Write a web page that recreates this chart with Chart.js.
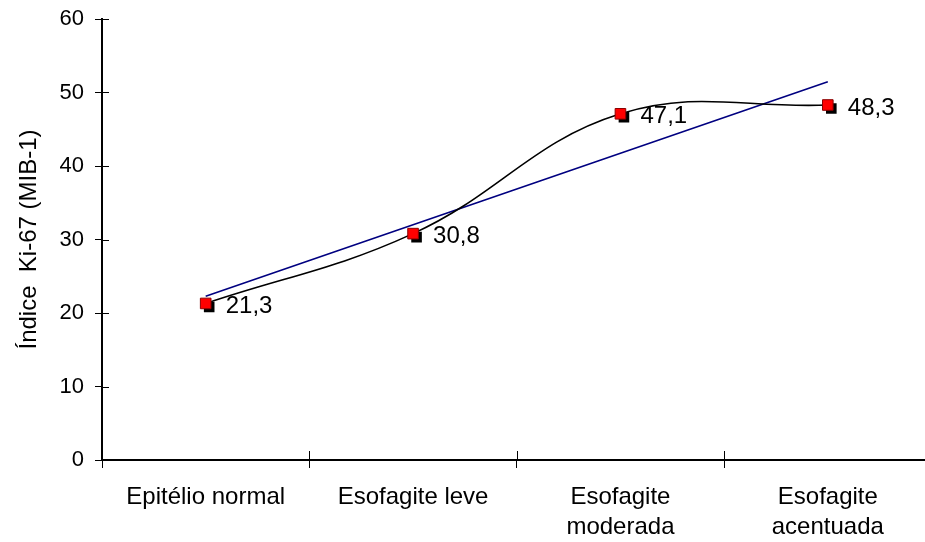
<!DOCTYPE html>
<html>
<head>
<meta charset="utf-8">
<script src="https://cdn.jsdelivr.net/npm/chart.js@4.4.1/dist/chart.umd.min.js"></script>
<style>
  body { margin: 0; overflow: hidden; background: #fff; }
  #wrap { width: 940px; height: 542px; }
</style>
</head>
<body>
<div id="wrap"><canvas id="kiChart"></canvas></div>
<script>
// Data
const categories = ['Epitélio normal', 'Esofagite leve', ['Esofagite', 'moderada'], ['Esofagite', 'acentuada']];
const kiValues = [21.3, 30.8, 47.1, 48.3];
const valueLabels = ['21,3', '30,8', '47,1', '48,3'];
const yTicks = [0, 10, 20, 30, 40, 50, 60];

// Linear trend line (least squares over the category index)
const n = kiValues.length;
const meanX = (n - 1) / 2;
const meanY = kiValues.reduce((a, b) => a + b, 0) / n;
let sxy = 0, sxx = 0;
kiValues.forEach((v, i) => { sxy += (i - meanX) * (v - meanY); sxx += (i - meanX) * (i - meanX); });
const slope = sxy / sxx;
const trendValues = kiValues.map((v, i) => meanY + slope * (i - meanX));

const fontFamily = '"Liberation Sans", Arial, sans-serif';
const fontSize = 24;

// shift the shadow squares a few pixels down-right
const shadowPlugin = {
    id: 'shadowShift',
    beforeDatasetDraw(chart, args) {
        if (args.index === 0) {
            chart.ctx.save();
            chart.ctx.translate(3.5, 3.5);
        }
    },
    afterDatasetDraw(chart, args) {
        if (args.index === 0) chart.ctx.restore();
    }
};

// tick marks crossing the axes + value labels
const extrasPlugin = {
    id: 'extras',
    afterDraw(chart) {
        const ctx = chart.ctx;
        const area = chart.chartArea;
        const x = chart.scales.x, y = chart.scales.y;
        ctx.save();
        ctx.strokeStyle = '#000';
        ctx.lineWidth = 1;
        ctx.beginPath();
        yTicks.forEach(t => {
            const py = Math.round(y.getPixelForValue(t)) + 0.5;
            ctx.moveTo(area.left, py);
            ctx.lineTo(area.left + 7, py);
        });
        for (let i = 0; i <= categories.length; i++) {
            const px = Math.round(x.getPixelForValue(i - 0.5)) + 0.5;
            ctx.moveTo(px, area.bottom);
            ctx.lineTo(px, area.bottom - 9);
        }
        ctx.stroke();

        const meta = chart.getDatasetMeta(2);
        ctx.fillStyle = '#000';
        ctx.font = fontSize + 'px ' + fontFamily;
        ctx.textAlign = 'left';
        ctx.textBaseline = 'middle';
        meta.data.forEach((pt, i) => {
            ctx.fillText(valueLabels[i], pt.x + 20, pt.y + 3);
        });
        ctx.restore();
    }
};

const ctx = document.getElementById('kiChart').getContext('2d');
const kiChart = new Chart(ctx, {
    type: 'line',
    data: {
        labels: categories,
        datasets: [
            {
                // shadow squares
                data: kiValues,
                showLine: false,
                pointStyle: 'rect',
                pointRadius: 7.5,
                pointBackgroundColor: '#000',
                pointBorderColor: '#000',
                pointBorderWidth: 0,
                order: 3
            },
            {
                // trend line
                data: trendValues,
                borderColor: '#000080',
                borderWidth: 1.6,
                pointRadius: 0,
                tension: 0,
                order: 2
            },
            {
                data: kiValues,
                borderColor: '#000',
                borderWidth: 1.6,
                tension: 0.4,
                pointStyle: 'rect',
                pointRadius: 7.5,
                pointBackgroundColor: '#ff0000',
                pointBorderColor: '#8b0000',
                pointBorderWidth: 1,
                order: 1
            }
        ]
    },
    options: {
        responsive: true,
        maintainAspectRatio: false,
        animation: false,
        layout: { padding: { top: 19, right: 6, left: 0, bottom: 0 } },
        plugins: {
            legend: { display: false },
            tooltip: { enabled: false }
        },
        scales: {
            x: {
                offset: true,
                grid: { offset: true, drawOnChartArea: false, tickLength: 8, color: '#000' },
                border: { color: '#000', width: 2 },
                ticks: {
                    color: '#000',
                    padding: 14,
                    maxRotation: 0,
                    font: { family: fontFamily, size: fontSize, lineHeight: 1.25 }
                },
                afterFit(scale) { scale.height = 82; }
            },
            y: {
                min: 0,
                max: 60,
                grid: { drawOnChartArea: false, tickLength: 7, color: '#000' },
                border: { color: '#000', width: 2 },
                ticks: {
                    stepSize: 10,
                    color: '#000',
                    padding: 11,
                    font: { family: fontFamily, size: 22 }
                },
                title: {
                    display: true,
                    text: 'Índice  Ki-67 (MIB-1)',
                    color: '#000',
                    padding: { top: 15, bottom: 0 },
                    font: { family: fontFamily, size: fontSize }
                },
                afterFit(scale) {
                    scale.width = 102;
                    scale.paddingTop = 0;
                    scale.paddingBottom = 0;
                }
            }
        }
    },
    plugins: [shadowPlugin, extrasPlugin]
});
</script>
</body>
</html>
